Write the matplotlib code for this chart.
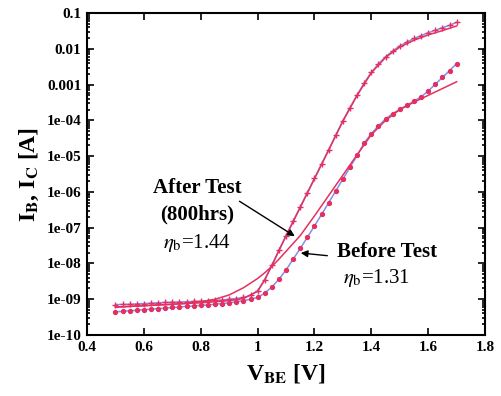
import numpy as np
import matplotlib
matplotlib.use("Agg")
import matplotlib.pyplot as plt
from matplotlib.ticker import FixedLocator, LogLocator, NullFormatter

plt.rcParams["font.family"] = ["Liberation Serif", "DejaVu Serif"]
plt.rcParams["mathtext.fontset"] = "stix"

# ---------- data (log10 of current in A) ----------
v_sweep = [0.5, 0.525, 0.55, 0.575, 0.6, 0.625, 0.65, 0.675, 0.7, 0.725,
           0.75, 0.775, 0.8, 0.825, 0.85, 0.875, 0.9, 0.925, 0.95, 0.975,
           1.0, 1.025, 1.05, 1.075, 1.1, 1.125, 1.15, 1.175, 1.2, 1.225,
           1.25, 1.275, 1.3, 1.325, 1.35, 1.375, 1.4, 1.425, 1.45, 1.475,
           1.5, 1.525, 1.55, 1.575, 1.6, 1.625, 1.65, 1.675, 1.7]

log_ic_before = [-9.15, -9.145, -9.14, -9.13, -9.12, -9.11, -9.10, -9.09, -9.08, -9.075,
                 -9.07, -9.06, -9.05, -9.04, -9.03, -9.02, -9.00, -8.98, -8.95, -8.89,
                 -8.76, -8.45, -8.05, -7.63, -7.22, -6.82, -6.42, -6.02, -5.62, -5.22,
                 -4.82, -4.41, -4.01, -3.64, -3.29, -2.95, -2.66, -2.42, -2.22, -2.06,
                 -1.92, -1.81, -1.71, -1.63, -1.55, -1.48, -1.41, -1.34, -1.26]

log_ib_before = [-9.35, -9.34, -9.32, -9.31, -9.29, -9.28, -9.26, -9.25, -9.23, -9.22,
                 -9.20, -9.19, -9.17, -9.16, -9.14, -9.12, -9.10, -9.07, -9.04, -9.00,
                 -8.95, -8.83, -8.66, -8.44, -8.18, -7.88, -7.58, -7.27, -6.95, -6.63,
                 -6.30, -5.97, -5.64, -5.31, -4.98, -4.63, -4.37, -4.15, -3.96, -3.81,
                 -3.69, -3.58, -3.46, -3.34, -3.18, -2.99, -2.80, -2.61, -2.41]

v_after = [0.5, 0.55, 0.6, 0.65, 0.7, 0.75, 0.8, 0.85, 0.9, 0.95, 1.0, 1.025,
           1.05, 1.075, 1.1, 1.15, 1.2, 1.25, 1.3, 1.35, 1.4, 1.45, 1.5, 1.55,
           1.6, 1.65, 1.7]

log_ic_after = [-9.22, -9.20, -9.18, -9.16, -9.14, -9.12, -9.10, -9.07, -9.04, -8.98,
                -8.78, -8.46, -8.06, -7.64, -7.23, -6.43, -5.63, -4.83, -4.02, -3.30,
                -2.67, -2.24, -1.95, -1.76, -1.61, -1.49, -1.36]

log_ib_after = [-9.22, -9.20, -9.18, -9.16, -9.14, -9.11, -9.07, -9.00, -8.88, -8.68,
                -8.42, -8.26, -8.08, -7.88, -7.66, -7.22, -6.67, -6.10, -5.53, -4.96,
                -4.40, -4.00, -3.70, -3.49, -3.30, -3.11, -2.92]

x_ticks = [0.4, 0.6, 0.8, 1.0, 1.2, 1.4, 1.6, 1.8]
x_tick_labels = ["0.4", "0.6", "0.8", "1", "1.2", "1.4", "1.6", "1.8"]
y_ticks = [1e-10, 1e-9, 1e-8, 1e-7, 1e-6, 1e-5, 1e-4, 1e-3, 1e-2, 1e-1]
y_tick_labels = ["1e-10", "1e-09", "1e-08", "1e-07", "1e-06", "1e-05",
                 "1e-04", "0.001", "0.01", "0.1"]

BLUE = "#7d8ff5"
RED = "#e5305f"

fig = plt.figure(figsize=(5.01, 3.96), dpi=100)
ax = fig.add_axes([0.1737, 0.154, 0.7945, 0.813])

ax.plot(v_sweep, 10 ** np.array(log_ic_before), color=BLUE, lw=1.1,
        marker="+", ms=4.2, mec=RED, mew=1.0)
ax.plot(v_after, 10 ** np.array(log_ic_after), color=RED, lw=1.1)
ax.plot(v_sweep, 10 ** np.array(log_ib_before), color=BLUE, lw=1.1,
        marker="o", ms=2.8, mfc=RED, mec=RED)
ax.plot(v_after, 10 ** np.array(log_ib_after), color=RED, lw=1.1)

ax.set_yscale("log")
ax.set_xlim(0.4, 1.8)
ax.set_ylim(1e-10, 0.1)
ax.xaxis.set_major_locator(FixedLocator(x_ticks))
ax.set_xticklabels(x_tick_labels)
ax.yaxis.set_major_locator(FixedLocator(y_ticks))
ax.set_yticklabels(y_tick_labels)
ax.yaxis.set_minor_locator(LogLocator(base=10, subs=np.arange(2, 10), numticks=20))
ax.yaxis.set_minor_formatter(NullFormatter())
ax.tick_params(which="both", direction="in", top=True, right=True, width=1.2)
ax.tick_params(which="major", length=5, labelsize=11, pad=4)
ax.tick_params(which="minor", length=2.5)
for lab in ax.get_xticklabels() + ax.get_yticklabels():
    lab.set_fontweight("bold")
for sp in ax.spines.values():
    sp.set_linewidth(1.5)

ax.set_xlabel(r"V$_{\mathbf{BE}}$ [V]", fontsize=17, fontweight="bold", labelpad=6)
ax.set_ylabel(r"I$_{\mathbf{B}}$, I$_{\mathbf{C}}$ [A]", fontsize=17, fontweight="bold", labelpad=4)

ax.text(0.787, 10 ** -5.89, "After Test", ha="center", va="center",
        fontsize=15, fontweight="bold")
ax.text(0.787, 10 ** -6.64, "(800hrs)", ha="center", va="center",
        fontsize=15, fontweight="bold")
ax.text(0.787, 10 ** -7.42, r"$\eta_{\rm b}$=1.44", ha="center", va="center",
        fontsize=15)
ax.text(1.455, 10 ** -7.68, "Before Test", ha="center", va="center",
        fontsize=15, fontweight="bold")
ax.text(1.42, 10 ** -8.40, r"$\eta_{\rm b}$=1.31", ha="center", va="center",
        fontsize=15)

ax.annotate("", xy=(1.139, 10 ** -7.28), xytext=(0.928, 10 ** -6.22),
            arrowprops=dict(arrowstyle="-|>", color="black", lw=1.0,
                            mutation_scale=10))
ax.annotate("", xy=(1.142, 10 ** -7.70), xytext=(1.255, 10 ** -7.79),
            arrowprops=dict(arrowstyle="-|>", color="black", lw=1.0,
                            mutation_scale=10))

fig.savefig("out.png", dpi=100)
